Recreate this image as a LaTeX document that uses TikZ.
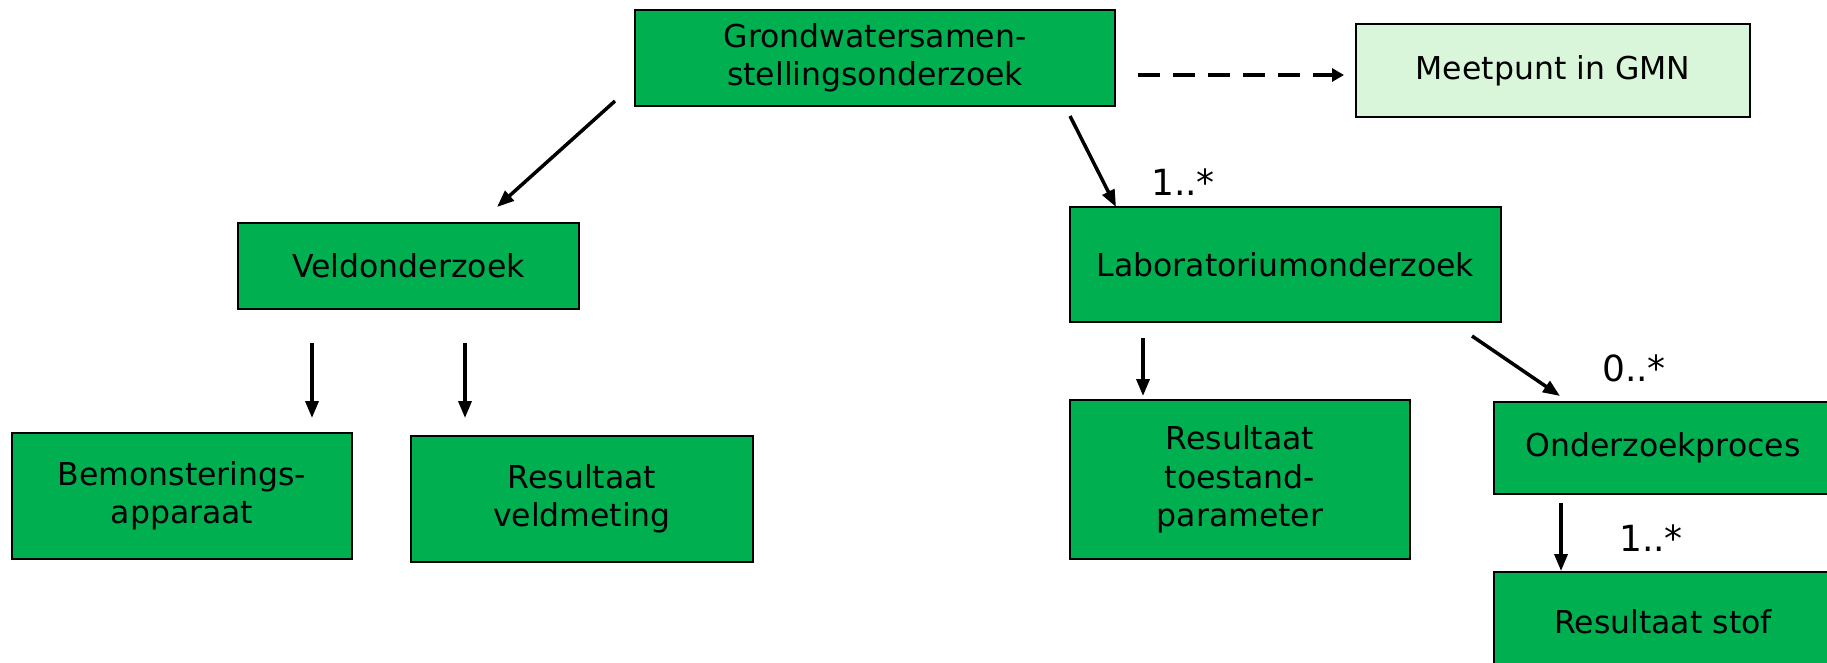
\documentclass[tikz,border=0pt]{standalone}
\usepackage{fontspec}
\setmainfont{DejaVu Sans}
\usetikzlibrary{arrows.meta}
\definecolor{boxgreen}{HTML}{00B050}
\definecolor{lightgreen}{HTML}{DAF6DA}
\tikzset{
  gbox/.style={draw=black, line width=2pt, fill=boxgreen, align=center, inner sep=0pt,
    font=\fontsize{31.5}{38.5}\selectfont},
  lbox/.style={gbox, fill=lightgreen},
  arr/.style={line width=3.5pt, -{Triangle[length=17pt,width=13pt]}},
  darr/.style={line width=4.5pt, dash pattern=on 22pt off 13pt, -{Triangle[length=12pt,width=13pt]}},
  mult/.style={font=\fontsize{36}{40}\selectfont, inner sep=0pt}
}
\begin{document}
\begin{tikzpicture}[x=1pt,y=-1pt]
\useasboundingbox (0,0) rectangle (1827,663);
\node[gbox, minimum width=480pt, minimum height=96pt] (top) at (875,58) {Grondwatersamen-\\stellingsonderzoek};
\node[lbox, minimum width=394pt, minimum height=93pt] (meet) at (1553,70.5) {Meetpunt in GMN};
\node[gbox, minimum width=341pt, minimum height=86pt] (veld) at (408.5,266) {Veldonderzoek};
\node[gbox, minimum width=340pt, minimum height=126pt] (bemon) at (182,496) {Bemonsterings-\\apparaat};
\node[gbox, minimum width=342pt, minimum height=126pt] (resveld) at (582,499) {Resultaat\\veldmeting};
\node[gbox, minimum width=431pt, minimum height=115pt] (lab) at (1285.5,264.5) {Laboratoriumonderzoek};
\node[gbox, minimum width=340pt, minimum height=159pt] (restoe) at (1240,479.5) {Resultaat\\toestand-\\parameter};
\node[gbox, minimum width=338pt, minimum height=92pt] (proces) at (1663,448) {Onderzoekproces};
\node[gbox, minimum width=338pt, minimum height=100pt] (stof) at (1663,622) {Resultaat stof};

\coordinate (d1) at (1138,75);
\coordinate (d2) at (1344,75);
\coordinate (a1) at (615,101);
\coordinate (a2) at (497,207);
\coordinate (b1) at (1070,116);
\coordinate (b2) at (1116,207);
\coordinate (v1) at (312,343);
\coordinate (v2) at (312,418);
\coordinate (w1) at (465,343);
\coordinate (w2) at (465,418);
\coordinate (l1) at (1143,338);
\coordinate (l2) at (1143,396);
\coordinate (p1) at (1472,336);
\coordinate (p2) at (1560,396);
\coordinate (s1) at (1561,503);
\coordinate (s2) at (1561,571);

\draw[darr] (d1) -- (d2);
\draw[arr] (a1) -- (a2);
\draw[arr] (b1) -- (b2);
\draw[arr] (v1) -- (v2);
\draw[arr] (w1) -- (w2);
\draw[arr] (l1) -- (l2);
\draw[arr] (p1) -- (p2);
\draw[arr] (s1) -- (s2);

\node[mult] (m1) at (1183,182) {1..*};
\node[mult] (m2) at (1634,368) {0..*};
\node[mult] (m3) at (1651,538) {1..*};
\end{tikzpicture}
\end{document}
